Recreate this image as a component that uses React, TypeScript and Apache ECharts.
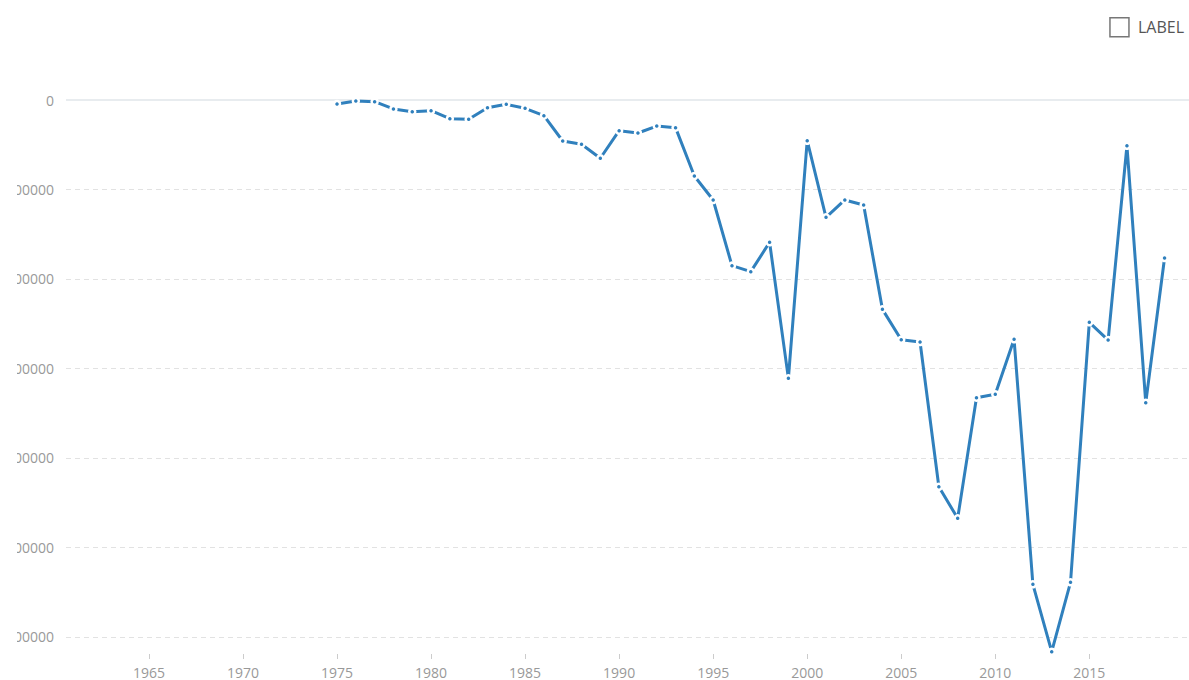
import React, { useEffect, useRef } from "react";
import * as echarts from "echarts";

const years: number[] = [
  1975, 1976, 1977, 1978, 1979, 1980, 1981, 1982, 1983, 1984,
  1985, 1986, 1987, 1988, 1989, 1990, 1991, 1992, 1993, 1994,
  1995, 1996, 1997, 1998, 1999, 2000, 2001, 2002, 2003, 2004,
  2005, 2006, 2007, 2008, 2009, 2010, 2011, 2012, 2013, 2014,
  2015, 2016, 2017, 2018, 2019,
];

const values: number[] = [
  -4500, -1100, -1900, -10000, -13100, -12000, -20900, -21600, -8600, -4800,
  -9300, -17500, -45800, -49500, -65100, -34300, -36900, -29100, -30900, -84900,
  -111700, -185100, -191800, -159000, -311000, -45500, -131100, -111700, -117300, -233900,
  -267800, -270400, -432100, -467400, -332600, -328800, -267400, -541100, -616400, -538900,
  -248400, -268200, -51100, -338200, -176500,
];

const xTickYears: number[] = [1965, 1970, 1975, 1980, 1985, 1990, 1995, 2000, 2005, 2010, 2015];
const yTickValues: number[] = [0, -100000, -200000, -300000, -400000, -500000, -600000];
const seriesName = "LABEL";

export default function App() {
  const ref = useRef<HTMLDivElement>(null);
  useEffect(() => {
    if (!ref.current) return;
    const chart = echarts.init(ref.current, undefined, { renderer: "svg" });
    const font = "'Open Sans', 'Noto Sans', sans-serif";
    chart.setOption({
      animation: false,
      backgroundColor: "#ffffff",
      legend: {
        right: 0,
        top: 12,
        icon: "rect",
        itemWidth: 19,
        itemHeight: 19,
        selectedMode: false,
        data: [seriesName],
        itemStyle: { color: "transparent", borderColor: "#777777", borderWidth: 1.5 },
        textStyle: { color: "#555555", fontSize: 16, fontFamily: font, padding: [0, 0, 0, 4] },
      },
      grid: { left: 49, right: 0, top: 100, bottom: 26, containLabel: false, outerBoundsMode: "none" },
      xAxis: {
        type: "value",
        min: 1960.59,
        max: 2020.3,
        axisLine: { show: false, onZero: false },
        splitLine: { show: false },
        axisTick: { show: true, customValues: xTickYears, length: 5, lineStyle: { color: "#cccccc" } },
        axisLabel: {
          customValues: xTickYears,
          color: "#999999",
          fontSize: 14,
          fontFamily: font,
          margin: 11,
          formatter: (v: number) => String(v),
        },
      },
      yAxis: {
        type: "value",
        min: -619000,
        max: 0,
        axisLine: { show: false },
        axisTick: { show: false, customValues: yTickValues },
        axisLabel: {
          customValues: yTickValues,
          color: "#999999",
          fontSize: 14,
          fontFamily: font,
          margin: 12,
          formatter: (v: number) => String(v),
        },
        splitLine: { show: true, lineStyle: { type: [5, 4], color: "#e2e2e2", width: 1 } },
      },
      series: [
        {
          name: seriesName,
          type: "line",
          data: years.map((y, i) => [y, values[i]]),
          color: "#3080bd",
          lineStyle: { color: "#3080bd", width: 3 },
          symbol: "circle",
          symbolSize: 6,
          showAllSymbol: true,
          itemStyle: { color: "#3080bd", borderColor: "#ffffff", borderWidth: 2.5 },
          markLine: {
            silent: true,
            symbol: "none",
            label: { show: false },
            lineStyle: { type: "solid", color: "#e8ecef", width: 2 },
            data: [{ yAxis: 0 }],
            z: 1,
          },
        },
      ],
    });
    return () => chart.dispose();
  }, []);
  return (
    <div
      ref={ref}
      style={{ position: "absolute", left: 17, top: 0, width: 1172, height: 680 }}
    />
  );
}
